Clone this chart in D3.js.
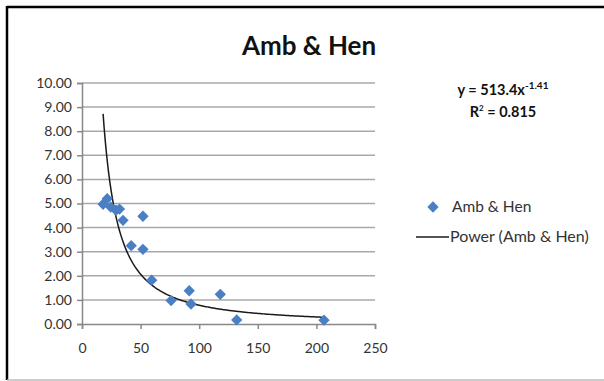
<!DOCTYPE html>
<html><head><meta charset="utf-8">
<script src="https://cdn.jsdelivr.net/npm/d3@7"></script>
<style>
html,body{margin:0;padding:0;background:#fff;}
svg{display:block;font-family:Lato, "Open Sans", sans-serif;}
</style></head>
<body>
<script>
const title = "Amb & Hen";
const seriesName = "Amb & Hen";
const trendName = "Power (Amb & Hen)";
const xValues = [18, 21.5, 24.5, 29, 32, 35, 42, 52, 52, 59.5, 76, 91.5, 93, 118, 132, 206.5];
const yValues = [4.97, 5.2, 4.85, 4.72, 4.77, 4.3, 3.25, 4.47, 3.1, 1.82, 0.97, 1.38, 0.83, 1.23, 0.17, 0.16];
const trendA = 513.4, trendB = -1.41;
const rSquared = "0.815";
const xTicks = [0, 50, 100, 150, 200, 250];
const yTicks = [0,1,2,3,4,5,6,7,8,9,10];

const W = 604, H = 381;
const svg = d3.select("body").append("svg").attr("width", W).attr("height", H);
svg.append("rect").attr("width", W).attr("height", H).attr("fill", "#fff");

// frame
svg.append("line").attr("x1",7).attr("x2",W).attr("y1",7).attr("y2",7).attr("stroke","#000").attr("stroke-width",2.5);
svg.append("line").attr("x1",7).attr("x2",7).attr("y1",6).attr("y2",380).attr("stroke","#000").attr("stroke-width",2.5);
svg.append("line").attr("x1",7).attr("x2",W).attr("y1",380).attr("y2",380).attr("stroke","#bbb").attr("stroke-width",1.5);

const x = d3.scaleLinear().domain([0,250]).range([82,375]);
const y = d3.scaleLinear().domain([0,10]).range([324,83]);

// title
svg.append("text").attr("x",309).attr("y",55).attr("text-anchor","middle")
  .attr("font-size",26).attr("font-weight","bold").attr("fill","#111").text(title);

// gridlines
svg.append("g").selectAll("line").data(yTicks.filter(d=>d>0)).join("line")
  .attr("x1",x(0)).attr("x2",x(250)).attr("y1",d=>y(d)).attr("y2",d=>y(d))
  .attr("stroke","#a8a8a8").attr("stroke-width",1.5);

// axes
const yAxis = svg.append("g").attr("transform",`translate(${x(0)},0)`)
  .call(d3.axisLeft(y).tickValues(yTicks).tickFormat(d3.format(".2f")).tickSize(5).tickPadding(5));
const xAxis = svg.append("g").attr("transform",`translate(0,${y(0)})`)
  .call(d3.axisBottom(x).tickValues(xTicks).tickSize(5).tickPadding(14));
[yAxis,xAxis].forEach(g=>{
  g.select(".domain").attr("stroke","#888").attr("stroke-width",1.5);
  g.selectAll(".tick line").attr("stroke","#888").attr("stroke-width",1.5);
  g.selectAll(".tick text").attr("font-size",14).attr("fill","#333").attr("font-family","Lato, sans-serif");
});

// trend line
const xmin = d3.min(xValues), xmax = d3.max(xValues);
const trendPts = d3.range(0,201).map(i=>{const xv = xmin + (xmax-xmin)*i/200; return [xv, trendA*Math.pow(xv,trendB)];});
svg.append("path").datum(trendPts)
  .attr("d", d3.line().x(d=>x(d[0])).y(d=>y(d[1])))
  .attr("fill","none").attr("stroke","#1a1a1a").attr("stroke-width",1.5);

// points
const diamond = d3.symbol().type(d3.symbolSquare).size(64)();
svg.append("g").selectAll("path").data(xValues.map((v,i)=>[v,yValues[i]])).join("path")
  .attr("d", diamond)
  .attr("transform", d=>`translate(${x(d[0])},${y(d[1])}) rotate(45)`)
  .attr("fill","#4a7fc4");

// equation
const eq = svg.append("text").attr("x",503).attr("y",95).attr("text-anchor","middle")
  .attr("font-size",14.5).attr("font-weight","bold").attr("fill","#111");
eq.append("tspan").text(`y = ${trendA}x`);
eq.append("tspan").attr("dy",-6).attr("font-size",10).text(trendB.toString());
const r2 = svg.append("text").attr("x",503).attr("y",117).attr("text-anchor","middle")
  .attr("font-size",14.5).attr("font-weight","bold").attr("fill","#111");
r2.append("tspan").text("R");
r2.append("tspan").attr("dy",-6).attr("font-size",8).text("2");
r2.append("tspan").attr("dy",6).text(` = ${rSquared}`);

// legend
svg.append("path").attr("d",diamond).attr("transform","translate(433,207) rotate(45)").attr("fill","#4a7fc4");
svg.append("text").attr("x",452).attr("y",212).attr("font-size",15.5).attr("fill","#333").text(seriesName);
svg.append("line").attr("x1",416).attr("x2",449).attr("y1",237).attr("y2",237).attr("stroke","#1a1a1a").attr("stroke-width",1.5);
svg.append("text").attr("x",450).attr("y",242).attr("font-size",16).attr("fill","#333").text(trendName);
</script>
</body></html>
